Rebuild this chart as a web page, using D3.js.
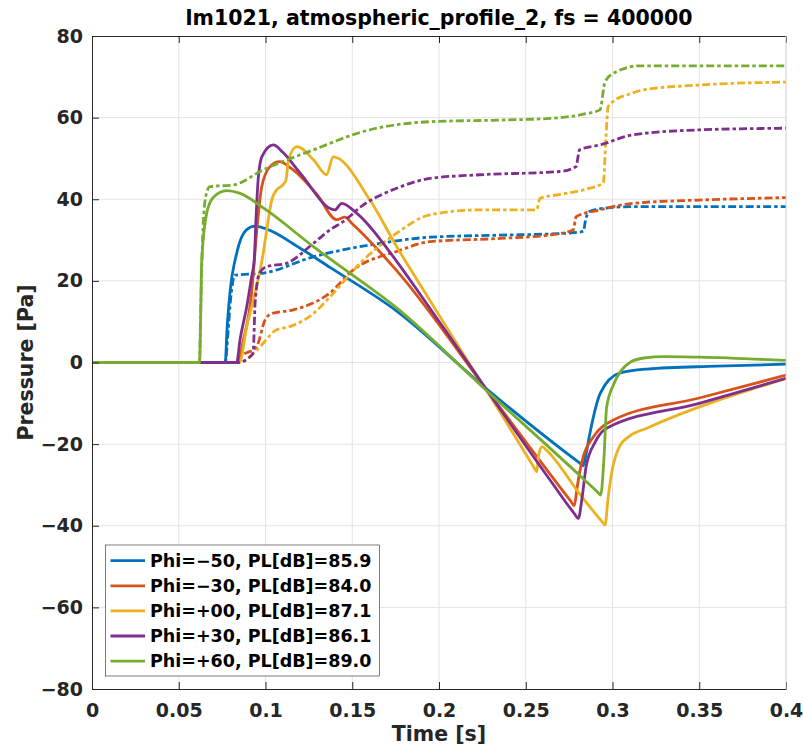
<!DOCTYPE html>
<html lang="en">
<head>
<meta charset="utf-8">
<title>lm1021, atmospheric_profile_2</title>
<script src="https://cdn.jsdelivr.net/npm/d3@7"></script>
<style>
	body { margin: 0; background: #fff; }
	text { font-family: "DejaVu Sans", sans-serif; font-weight: bold; }
	.grid line { stroke: #e3e3e3; stroke-width: 1; }
	.axis path, .axis line { stroke: #262626; }
	.axis text { fill: #262626; font-size: 19px; }
</style>
</head>
<body>
<div id="chart"></div>
<script>
// series labels / colours
var phi = ["\u221250", "\u221230", "+00", "+30", "+60"];
var pl = ["85.9", "84.0", "87.1", "86.1", "89.0"];
var colors = ["#0072BD", "#D95319", "#EDB120", "#7E2F8E", "#77AC30"];

var xTicks = [0, 0.05, 0.1, 0.15, 0.2, 0.25, 0.3, 0.35, 0.4];
var yTicks = [-80, -60, -40, -20, 0, 20, 40, 60, 80];

// solid lines: pressure signal (time [s], pressure [Pa])
var tS0 = [0, 0.0768, 0.0778, 0.0795, 0.0834, 0.089, 0.094, 0.1, 0.12, 0.1372, 0.1756, 0.2275, 0.281, 0.2832, 0.2845, 0.287, 0.293, 0.304, 0.32, 0.36, 0.4];
var pS0 = [0, 0, 8, 17, 26.8, 32.5, 33.4, 32.8, 28, 23.3, 12.6, -6.5, -24.6, -25.3, -23, -17.3, -7.5, -2.6, -1.6, -0.9, -0.4];

var tS1 = [0, 0.0842, 0.087, 0.092, 0.0949, 0.0978, 0.1026, 0.108, 0.115, 0.13, 0.141, 0.1458, 0.15, 0.1756, 0.2275, 0.276, 0.278, 0.2795, 0.281, 0.2832, 0.289, 0.3005, 0.35, 0.4];
var pS1 = [0, 0, 5, 17, 32, 43, 48, 49.2, 47.5, 41, 35, 35.6, 34, 22.5, -6.7, -34, -35.1, -31, -27, -23, -18.2, -14.1, -8.7, -3.1];

var tS2 = [0, 0.085, 0.0892, 0.0949, 0.0987, 0.1007, 0.1036, 0.1064, 0.11, 0.1118, 0.1132, 0.118, 0.128, 0.1352, 0.139, 0.1602, 0.1756, 0.1948, 0.214, 0.2294, 0.255, 0.2563, 0.2575, 0.2595, 0.262, 0.2813, 0.294, 0.2957, 0.2975, 0.3, 0.304, 0.31, 0.3197, 0.4];
var pS2 = [0, 0, 8.8, 18.6, 26.8, 32.5, 39.8, 42.3, 43.5, 44.7, 49.6, 52.9, 49.5, 46, 50.4, 39.8, 28.4, 15.2, 2.1, -8.2, -25.9, -26.8, -22.5, -20.6, -21.5, -32.3, -39, -39.8, -33, -26, -20.6, -18, -16.1, -3.9];

var tS3 = [0, 0.0834, 0.0853, 0.0892, 0.092, 0.0935, 0.0945, 0.0958, 0.098, 0.1045, 0.11, 0.12, 0.14, 0.1439, 0.1525, 0.1756, 0.189, 0.2275, 0.264, 0.278, 0.2803, 0.2825, 0.2848, 0.29, 0.2966, 0.35, 0.4];
var pS3 = [0, 0, 5.5, 13.7, 21, 25, 35, 45, 50.5, 53.3, 51.5, 46.4, 37.4, 39, 36.6, 24.8, 16.8, -6.7, -28.8, -37, -38.2, -33, -25.5, -19.5, -16.1, -10, -3.9];

var tS4 = [0, 0.062, 0.0625, 0.0632, 0.0661, 0.07, 0.0776, 0.085, 0.1, 0.1276, 0.1372, 0.1756, 0.2275, 0.2832, 0.2915, 0.2932, 0.295, 0.2966, 0.3005, 0.305, 0.31, 0.318, 0.33, 0.35, 0.4];
var pS4 = [0, 0, 8, 24.4, 36.6, 40.5, 42.1, 41.5, 37.5, 28.4, 25.4, 13.4, -6.9, -28.5, -31.8, -32.5, -24, -11, -5.5, -2, 0, 1.1, 1.45, 1.3, 0.5];

// dash-dot lines
var tD0 = [0, 0.0768, 0.0785, 0.0795, 0.0824, 0.0987, 0.1276, 0.166, 0.1948, 0.235, 0.27, 0.2832, 0.2845, 0.2867, 0.295, 0.312, 0.35, 0.4];
var pD0 = [0, 0, 8, 13.7, 21.4, 21.9, 25.9, 29.2, 30.7, 31.2, 31.6, 32.1, 35, 37, 37.8, 38.2, 38.2, 38.2];

var tD1 = [0, 0.0845, 0.0853, 0.0949, 0.0997, 0.1036, 0.116, 0.137, 0.1506, 0.1756, 0.1948, 0.2352, 0.265, 0.2774, 0.279, 0.2928, 0.312, 0.35, 0.4];
var pD1 = [0, 0, 1.2, 3.9, 10.4, 12, 12.9, 17, 22.7, 27.2, 29.6, 30.4, 31.3, 32.5, 35.7, 37.4, 39, 39.8, 40.4];

var tD2 = [0, 0.085, 0.0949, 0.1064, 0.114, 0.1276, 0.1372, 0.1564, 0.1756, 0.1948, 0.2236, 0.2563, 0.2582, 0.27, 0.285, 0.2947, 0.2962, 0.2975, 0.3005, 0.31, 0.3178, 0.3504, 0.4];
var pD2 = [0, 0, 3, 8, 8.8, 12, 16.1, 25.1, 31.7, 36.2, 37.4, 37.4, 40.2, 41.2, 42.5, 44, 55, 62.7, 64, 65.8, 66.8, 68, 68.7];

var tD3 = [0, 0.084, 0.0925, 0.093, 0.094, 0.0965, 0.1007, 0.112, 0.1276, 0.1372, 0.1447, 0.1564, 0.1756, 0.1948, 0.2236, 0.2697, 0.279, 0.281, 0.2928, 0.312, 0.35, 0.4];
var pD3 = [0, 0, 2, 3, 14.5, 21.9, 23.5, 24.3, 29.2, 32.5, 34.5, 38.6, 42.7, 45.1, 46, 46.8, 48, 52.1, 53.3, 55.8, 57, 57.4];

var tD4 = [0, 0.062, 0.0625, 0.0642, 0.066, 0.068, 0.0814, 0.0987, 0.1276, 0.1564, 0.1948, 0.2352, 0.264, 0.285, 0.2928, 0.2957, 0.3024, 0.3158, 0.4];
var pD4 = [0, 0, 10, 34.9, 41.5, 43.1, 43.5, 47.2, 52.1, 56.6, 59, 59.4, 59.8, 61, 61.9, 68.8, 71.3, 72.7, 72.7];

var solid = [[tS0, pS0], [tS1, pS1], [tS2, pS2], [tS3, pS3], [tS4, pS4]];
var dashed = [[tD0, pD0], [tD1, pD1], [tD2, pD2], [tD3, pD3], [tD4, pD4]];

var width = 803, height = 754;
var x0 = 92, x1 = 786, y0 = 36, y1 = 689;

var svg = d3.select("#chart").append("svg")
	.attr("width", width)
	.attr("height", height);

var x = d3.scaleLinear().domain([0, 0.4]).range([x0, x1]);
var y = d3.scaleLinear().domain([-80, 80]).range([y1, y0]);

svg.append("defs").append("clipPath").attr("id", "clip")
	.append("rect").attr("x", x0).attr("y", y0).attr("width", x1 - x0).attr("height", y1 - y0);

// grid
var grid = svg.append("g").attr("class", "grid");
grid.selectAll(".gx").data(xTicks.slice(1, -1)).enter().append("line")
	.attr("x1", function(d) { return x(d); }).attr("x2", function(d) { return x(d); })
	.attr("y1", y0).attr("y2", y1);
grid.selectAll(".gy").data(yTicks.slice(1, -1)).enter().append("line")
	.attr("x1", x0).attr("x2", x1)
	.attr("y1", function(d) { return y(d); }).attr("y2", function(d) { return y(d); });

// lines
var line = d3.line()
	.x(function(d) { return x(d[0]); })
	.y(function(d) { return y(d[1]); })
	.curve(d3.curveMonotoneX);

var plot = svg.append("g").attr("clip-path", "url(#clip)");
for (var i = 0; i < 5; i++) {
	var s = d3.zip(solid[i][0], solid[i][1]);
	var dd = d3.zip(dashed[i][0], dashed[i][1]);
	plot.append("path").datum(s)
		.attr("d", line)
		.attr("fill", "none")
		.attr("stroke", colors[i])
		.attr("stroke-width", 2.8);
	plot.append("path").datum(dd)
		.attr("d", line)
		.attr("fill", "none")
		.attr("stroke", colors[i])
		.attr("stroke-width", 2.8)
		.attr("stroke-dasharray", "8,3,3.5,3");
}

// axes
svg.append("g").attr("class", "axis")
	.attr("transform", "translate(0," + y1 + ")")
	.call(d3.axisBottom(x).tickValues(xTicks).tickSizeInner(-7).tickSizeOuter(0).tickPadding(15)
		.tickFormat(function(d) { return String(d); }));

svg.append("g").attr("class", "axis")
	.attr("transform", "translate(" + x0 + ",0)")
	.call(d3.axisLeft(y).tickValues(yTicks).tickSizeInner(-7).tickSizeOuter(0).tickPadding(9)
		.tickFormat(d3.format("d")));

svg.append("g").attr("class", "axis")
	.attr("transform", "translate(0," + y0 + ")")
	.call(d3.axisTop(x).tickValues(xTicks).tickSizeInner(-7).tickSizeOuter(0).tickFormat(""));

svg.append("line")
	.attr("x1", x1).attr("x2", x1).attr("y1", y0).attr("y2", y1)
	.attr("stroke", "#cfcfcf");

// labels
svg.append("text")
	.attr("x", (x0 + x1) / 2).attr("y", 25)
	.attr("text-anchor", "middle")
	.style("font-size", "20.5px")
	.attr("fill", "#000")
	.text("lm1021, atmospheric_profile_2, fs = 400000");

svg.append("text")
	.attr("x", (x0 + x1) / 2).attr("y", 741)
	.attr("text-anchor", "middle")
	.style("font-size", "20.5px")
	.attr("fill", "#262626")
	.text("Time [s]");

svg.append("text")
	.attr("transform", "translate(33," + (y0 + y1) / 2 + ") rotate(-90)")
	.attr("text-anchor", "middle")
	.style("font-size", "20.5px")
	.attr("fill", "#262626")
	.text("Pressure [Pa]");

// legend
var legend = svg.append("g");
legend.append("rect")
	.attr("x", 105.5).attr("y", 545).attr("width", 274).attr("height", 131)
	.attr("fill", "#fff").attr("stroke", "#262626").attr("stroke-width", 0.6);

var item = legend.selectAll(".item").data(phi).enter().append("g")
	.attr("transform", function(d, i) { return "translate(0," + (560.7 + i * 25.1) + ")"; });
item.append("line")
	.attr("x1", 110.5).attr("x2", 145)
	.attr("stroke", function(d, i) { return colors[i]; })
	.attr("stroke-width", 2.8);
item.append("text")
	.attr("x", 150).attr("dy", "0.36em")
	.style("font-size", "17.5px")
	.attr("fill", "#000")
	.text(function(d, i) { return "Phi=" + d + ", PL[dB]=" + pl[i]; });
</script>
</body>
</html>
